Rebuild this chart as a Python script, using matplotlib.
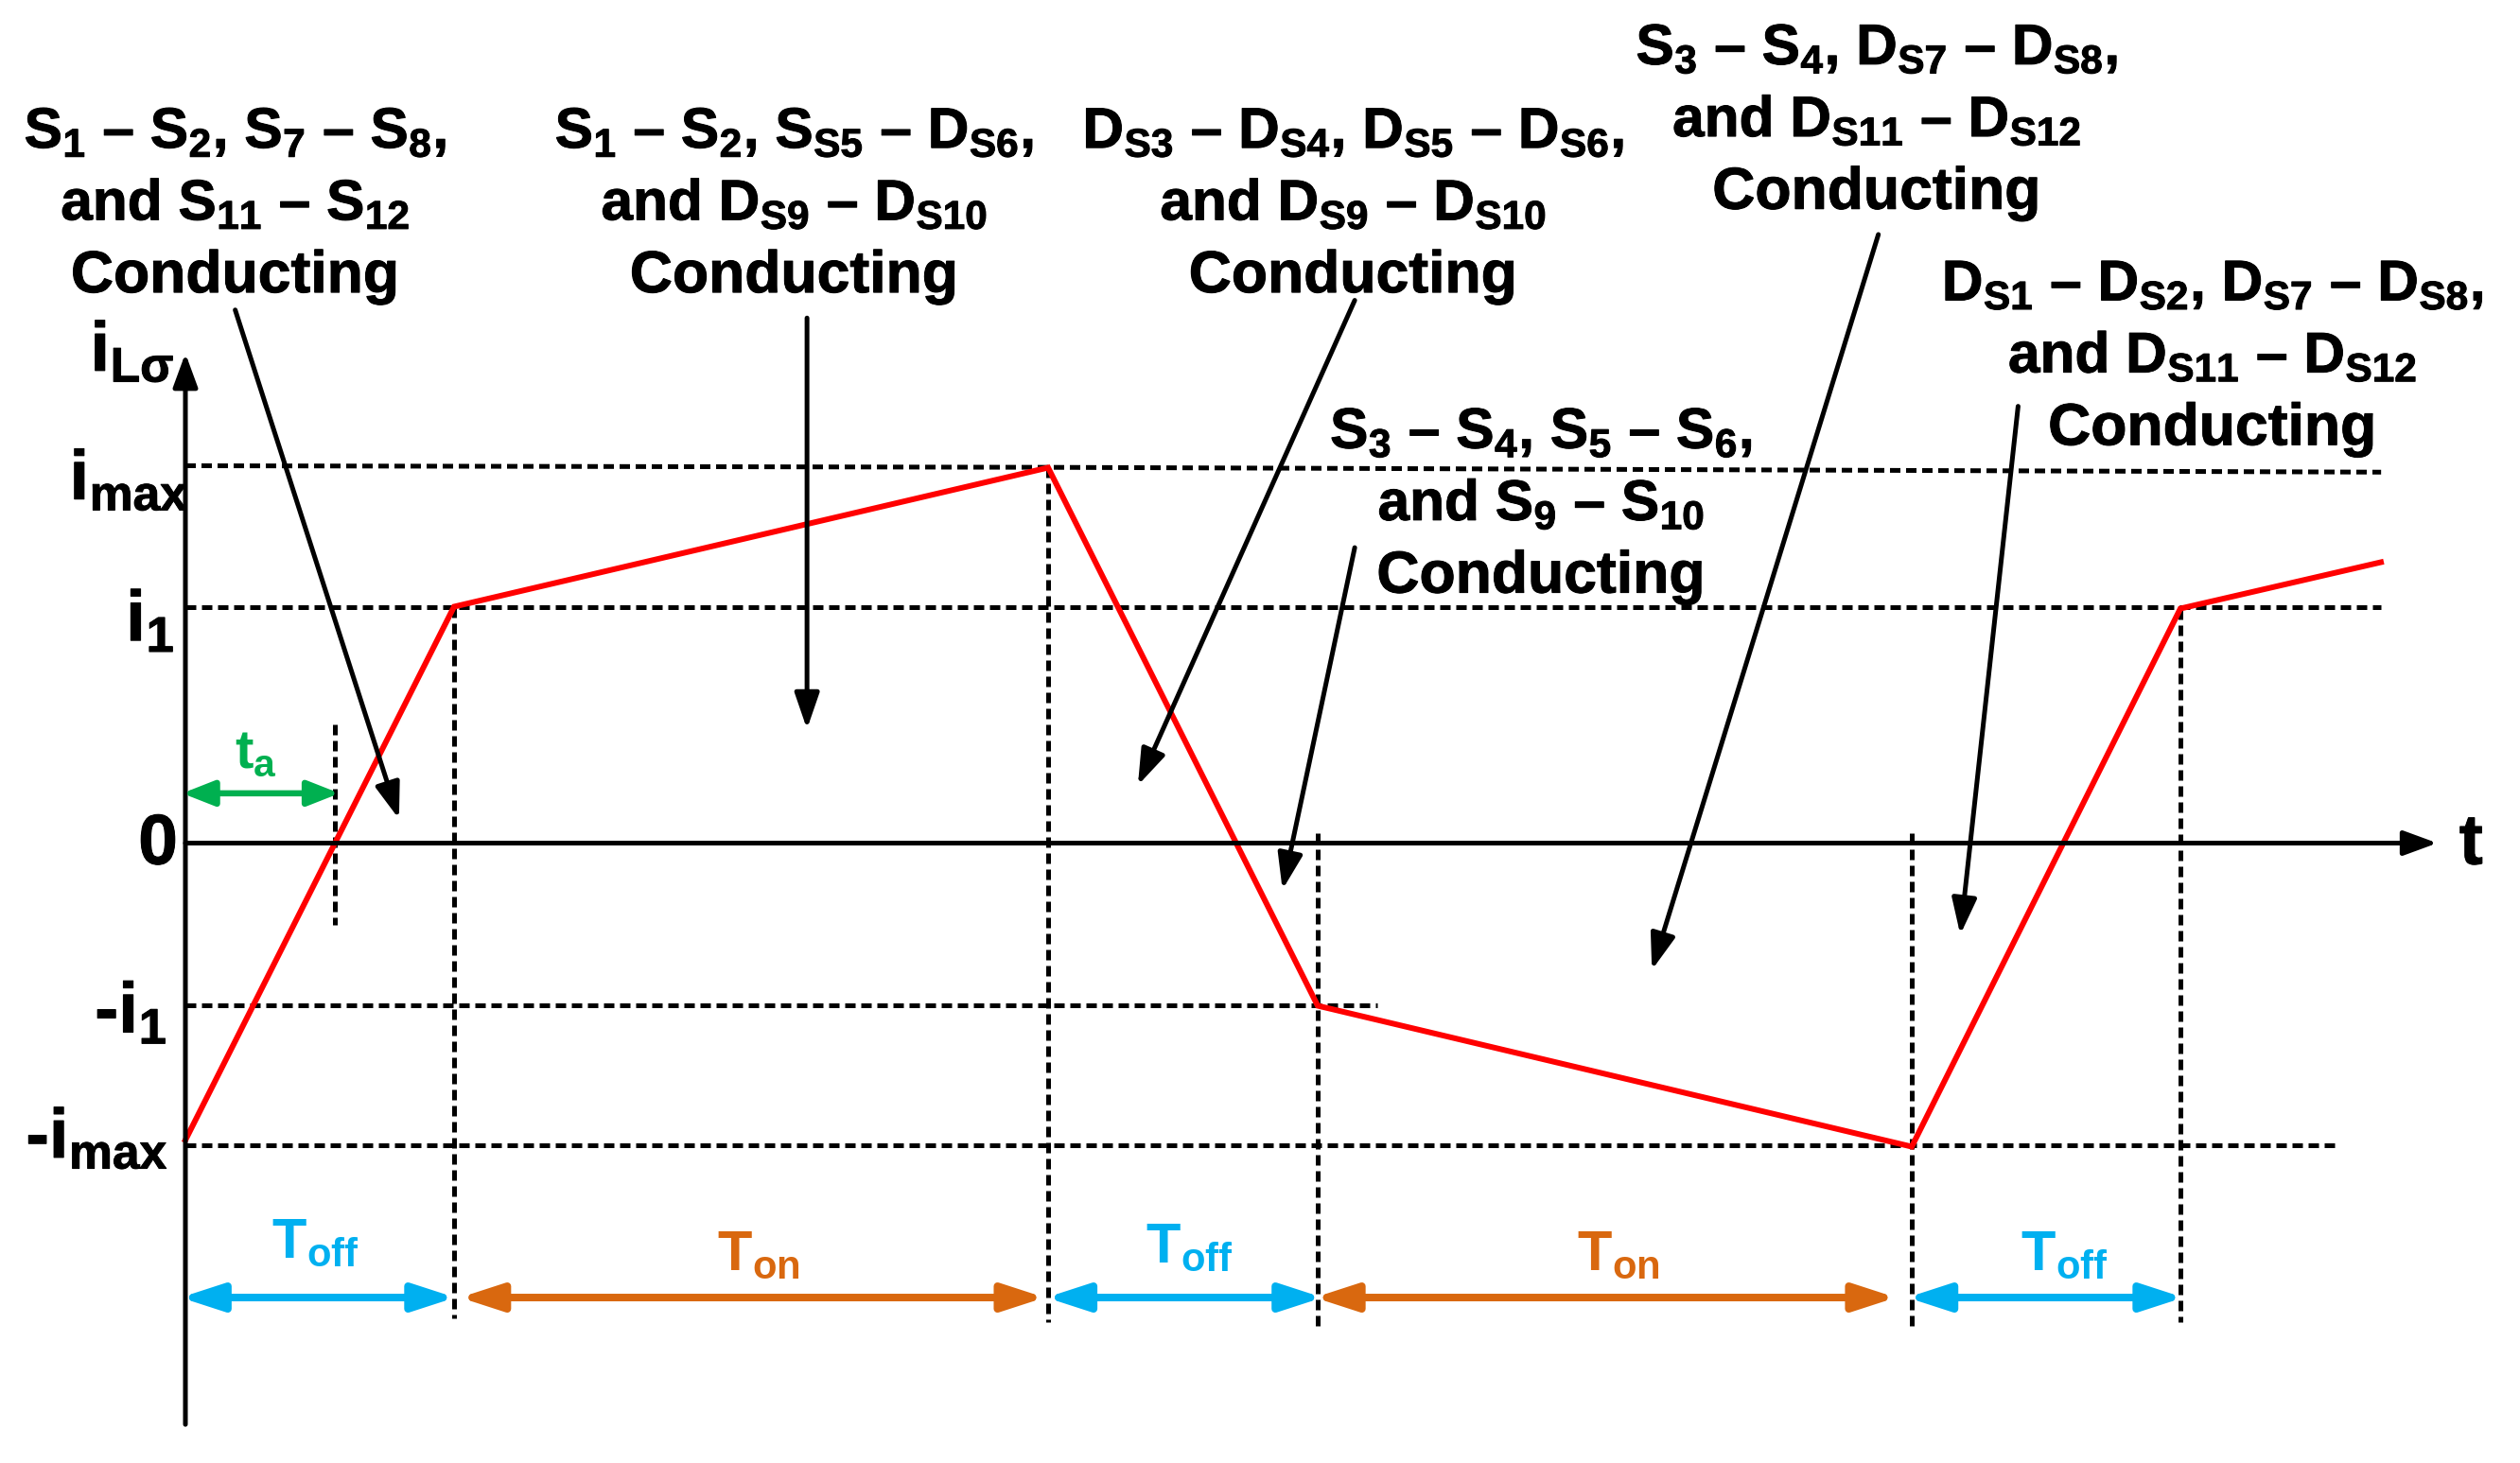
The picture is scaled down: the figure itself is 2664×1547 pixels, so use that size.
import matplotlib
matplotlib.use('Agg')
import matplotlib.pyplot as plt
import matplotlib.patheffects as pe
from matplotlib.patches import FancyArrowPatch

plt.rcParams['font.family'] = ['Liberation Sans', 'DejaVu Sans']
plt.rcParams['font.weight'] = 'bold'
plt.rcParams['mathtext.default'] = 'regular'
plt.rcParams['mathtext.fontset'] = 'custom'
plt.rcParams['mathtext.rm'] = 'Liberation Sans:bold'
plt.rcParams['mathtext.it'] = 'Liberation Sans:bold'
plt.rcParams['mathtext.bf'] = 'Liberation Sans:bold'

# waveform of the inductor current (t and i in arbitrary units)
tempo = [0, 284, 912, 1197, 1825, 2109, 2321]
corrente = [-314, 250, 397, -172, -321, 248, 297]

# text blocks: lines, centre x, baseline of the first line
blocos = [
    (['S$_{1}$ – S$_{2}$, S$_{7}$ – S$_{8}$,', 'and S$_{11}$ – S$_{12}$', 'Conducting'], 146, 91),
    (['S$_{1}$ – S$_{2}$, S$_{S5}$ – D$_{S6}$,', 'and D$_{S9}$ – D$_{S10}$', 'Conducting'], 494, 91),
    (['D$_{S3}$ – D$_{S4}$, D$_{S5}$ – D$_{S6}$,', 'and D$_{S9}$ – D$_{S10}$', 'Conducting'], 842, 91),
    (['S$_{3}$ – S$_{4}$, S$_{5}$ – S$_{6}$,', 'and S$_{9}$ – S$_{10}$', 'Conducting'], 959, 278),
    (['S$_{3}$ – S$_{4}$, D$_{S7}$ – D$_{S8}$,', 'and D$_{S11}$ – D$_{S12}$', 'Conducting'], 1168, 39),
    (['D$_{S1}$ – D$_{S2}$, D$_{S7}$ – D$_{S8}$,', 'and D$_{S11}$ – D$_{S12}$', 'Conducting'], 1377, 186),
]

setas_pretas = [
    ((146, 192), (248, 509)),
    ((502, 197), (502, 453)),
    ((843, 186), (708, 488)),
    ((843, 340), (798, 553)),
    ((1169, 145), (1028, 603)),
    ((1256, 252), (1220, 581)),
]

rotulos_eixo = [
    ('i$_{Lσ}$', 82, 230, 53),
    ('i$_{max}$', 80, 310, 53),
    ('i$_{1}$', 93, 398, 54),
    ('0', 98, 537, 54),
    ('-i$_{1}$', 81, 642, 54),
    ('-i$_{max}$', 60, 720, 53),
    ('t', 1538, 537, 54),
]

cor_off = '#00B0F0'
cor_on = '#D9680F'
cor_ta = '#00B050'

intervalos = [
    ('T$_{off}$', 112, 283, 196, 782, cor_off),
    ('T$_{on}$', 286, 650, 472, 790, cor_on),
    ('T$_{off}$', 651, 823, 740, 785, cor_off),
    ('T$_{on}$', 818, 1180, 1007, 790, cor_on),
    ('T$_{off}$', 1187, 1359, 1285, 790, cor_off),
]

tracos_h = [((115, 289), (652, 290), (1482, 293)),
            ((115, 377), (1482, 377)),
            ((115, 625), (857, 625)),
            ((115, 712), (1453, 712))]

tracos_v = [(208, 450, 575), (282, 377, 820), (652, 290, 822),
            (820, 518, 825), (1190, 518, 825), (1357, 378, 822)]

ESC = 1.698
X0 = 196
Y0 = 891.5
PX = 0.72  # points per pixel at dpi 100
engrossar = [pe.withStroke(linewidth=0.7, foreground='k')]


def X(p):
    return (p - 115) * ESC


def Y(p):
    return (524 - p) * ESC


fig = plt.figure(figsize=(26.64, 15.47), dpi=100)
ax = fig.add_axes([0, 0, 1, 1])
ax.set_xlim(-X0, 2664 - X0)
ax.set_ylim(Y0 - 1547, Y0)
ax.axis('off')

# dashed guides
traco = (0, (2.2, 1.2))
for pts in tracos_h:
    ax.plot([X(p[0]) for p in pts], [Y(p[1]) for p in pts], color='k',
            lw=5 * PX, linestyle=traco, zorder=1)
for x, y1, y2 in tracos_v:
    ax.plot([X(x), X(x)], [Y(y1), Y(y2)], color='k', lw=5 * PX, linestyle=traco, zorder=1)

# red current
ax.plot(tempo, corrente, color='#FF0000', lw=6 * PX, solid_joinstyle='miter', zorder=3)


def seta(ini, fim, cor, estilo, lw, hl, hw):
    a = FancyArrowPatch((X(ini[0]), Y(ini[1])), (X(fim[0]), Y(fim[1])),
                        arrowstyle=f'{estilo},head_length={hl * PX},head_width={hw * PX}',
                        mutation_scale=1, color=cor, lw=lw * PX,
                        shrinkA=0, shrinkB=0, zorder=4)
    ax.add_patch(a)


# axes
seta((115, 886), (115, 219), 'k', '-|>', 5, 30, 11)
seta((115, 524), (1517, 524), 'k', '-|>', 5, 30, 11)

for ini, fim in setas_pretas:
    seta(ini, fim, 'k', '-|>', 5, 32, 11)

for linhas, xc, yb in blocos:
    for k, linha in enumerate(linhas):
        fs = 45 if k == 2 else 43.5
        ax.text(X(xc), Y(yb + k * 45), linha, ha='center', va='baseline',
                fontsize=fs, path_effects=engrossar)

for txt, x, y, fs in rotulos_eixo:
    ax.text(X(x), Y(y), txt, ha='center', va='baseline', fontsize=fs, path_effects=engrossar)

for txt, x1, x2, xt, yt, cor in intervalos:
    seta((x1, 807), (x2, 807), cor, '<|-|>', 8, 37, 12)
    ax.text(X(xt), Y(yt), txt, ha='center', va='baseline', fontsize=43, color=cor)

seta((113, 493), (211, 493), cor_ta, '<|-|>', 6.5, 28, 11)
ax.text(X(159), Y(477), 't$_{a}$', ha='center', va='baseline', fontsize=42, color=cor_ta)

fig.savefig('out.png', dpi=100, facecolor='white')
plt.close(fig)
